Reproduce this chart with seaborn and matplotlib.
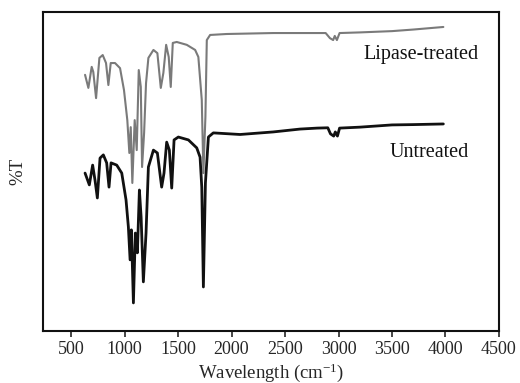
import matplotlib
matplotlib.use("Agg")
import matplotlib.pyplot as plt
import seaborn as sns
import pandas as pd

# Wavenumber (cm^-1) and transmittance readings
lipase_wn = [631, 662, 693, 708, 734, 765, 796, 827, 849, 871, 911, 958, 995, 1026, 1045, 1058,
             1073, 1095, 1114, 1133, 1152, 1164, 1183, 1201, 1223, 1270, 1307, 1339, 1363, 1389,
             1413, 1432, 1451, 1488, 1582, 1660, 1690, 1722, 1737, 1756, 1769, 1800, 1955, 2390,
             2641, 2763, 2880, 2920, 2950, 2965, 2985, 3010, 3200, 3500, 3700, 3980]
lipase_t = [80.3, 76.2, 82.8, 81.2, 73.0, 85.6, 86.5, 84.0, 77.1, 84.0, 84.0, 82.4, 75.5, 66.1, 55.8, 63.9,
            46.4, 66.1, 56.7, 81.8, 76.5, 51.4, 62.1, 77.7, 85.6, 88.1, 87.1, 76.2, 80.9, 89.7,
            85.9, 76.5, 90.3, 90.6, 89.7, 88.1, 85.9, 72.4, 49.5, 67.1, 91.2, 92.8, 93.1, 93.4,
            93.4, 93.4, 93.4, 91.8, 91.2, 92.5, 91.2, 93.4, 93.6, 94.0, 94.5, 95.3]

untreated_wn = [631, 671, 702, 724, 746, 771, 802, 833, 855, 874, 927, 974, 1014, 1036, 1052, 1064,
                1083, 1101, 1120, 1139, 1155, 1176, 1201, 1223, 1270, 1307, 1347, 1369, 1394, 1419,
                1441, 1463, 1503, 1597, 1675, 1706, 1722, 1737, 1756, 1784, 1830, 2080, 2390, 2641,
                2800, 2900, 2925, 2955, 2970, 2990, 3010, 3200, 3500, 3700, 3980]
untreated_t = [49.5, 45.8, 52.0, 47.3, 41.7, 54.2, 55.2, 52.7, 45.1, 52.7, 52.0, 49.5, 41.1, 32.6, 22.3, 31.7,
               8.8, 30.7, 24.5, 44.2, 35.7, 15.4, 30.7, 51.4, 56.7, 55.8, 45.1, 49.5, 59.2, 56.7,
               44.8, 59.9, 60.8, 59.9, 57.4, 54.5, 45.1, 13.8, 46.4, 60.8, 62.1, 61.6, 62.4, 63.3,
               63.6, 63.7, 61.8, 61.1, 62.4, 61.1, 63.6, 63.9, 64.6, 64.7, 64.9]

x_ticks = [500, 1000, 1500, 2000, 2500, 3000, 3500, 4000, 4500]
series_labels = ["Lipase-treated", "Untreated"]

sns.set_style("ticks")
plt.rcParams["font.family"] = ["Liberation Serif", "DejaVu Serif"]
plt.rcParams["mathtext.default"] = "regular"

fig = plt.figure(figsize=(5.2, 3.83), dpi=100)
ax = fig.add_axes([0.0827, 0.1358, 0.8769, 0.8329])

df_l = pd.DataFrame({"wn": lipase_wn, "t": lipase_t})
df_u = pd.DataFrame({"wn": untreated_wn, "t": untreated_t})
sns.lineplot(data=df_l, x="wn", y="t", ax=ax, color="#7a7a7a", linewidth=1.5, estimator=None, sort=False)
sns.lineplot(data=df_u, x="wn", y="t", ax=ax, color="#111111", linewidth=2.0, estimator=None, sort=False)

ax.set_xlim(238, 4500)
ax.set_ylim(0, 100)
ax.set_xticks(x_ticks)
ax.set_xticklabels([str(v) for v in x_ticks], fontsize=13)
ax.set_yticks([])
ax.tick_params(axis="x", direction="out", length=4, width=1.2, pad=3)
for s in ax.spines.values():
    s.set_linewidth(1.5)
    s.set_color("#111111")

ax.set_xlabel("Wavelength (cm$^{-1}$)", fontsize=13.5, labelpad=3)
ax.set_ylabel("%T", fontsize=13.5, labelpad=12)

ax.text(3772, 85.3, series_labels[0], fontsize=14.5, ha="center", va="baseline", color="#111111")
ax.text(3847, 54.5, series_labels[1], fontsize=14.5, ha="center", va="baseline", color="#111111")

fig.savefig("out.png", dpi=100)
